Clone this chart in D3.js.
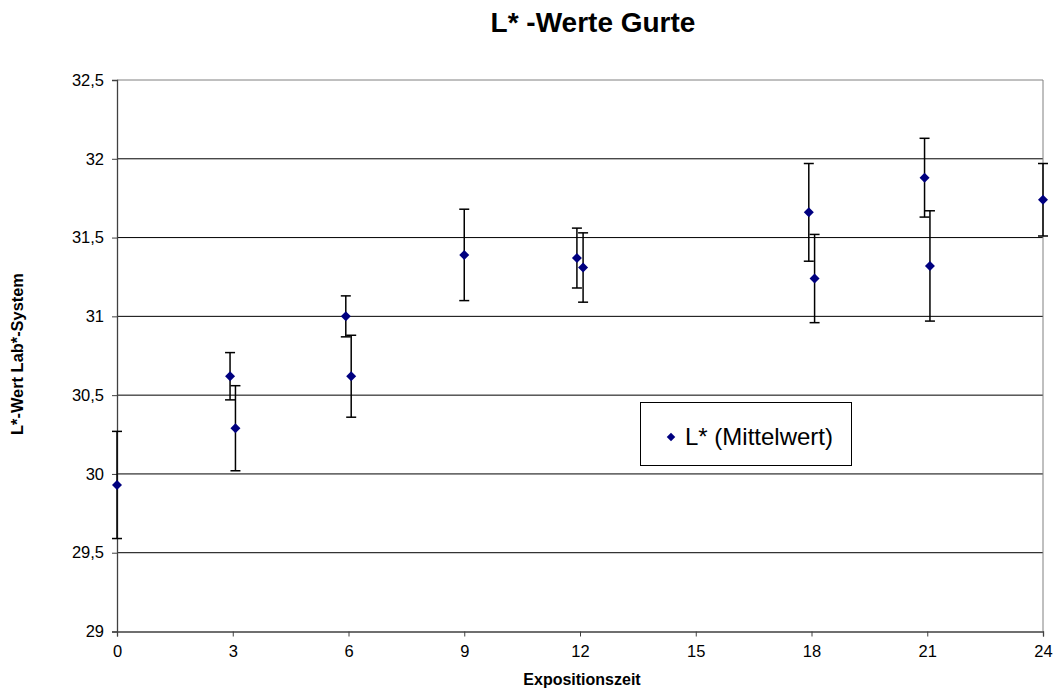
<!DOCTYPE html>
<html><head><meta charset="utf-8">
<script src="https://cdn.jsdelivr.net/npm/d3@7"></script>
<style>body{margin:0;background:#fff}svg{display:block;font-family:Arial,"Liberation Sans",sans-serif}</style>
</head><body><svg id="c" width="1053" height="691"></svg>
<script>
const xVals  = [0, 2.93, 3.07, 5.93, 6.07, 9, 11.92, 12.08, 17.93, 18.08, 20.93, 21.07, 24];
const means  = [29.93, 30.62, 30.29, 31.00, 30.62, 31.39, 31.37, 31.31, 31.66, 31.24, 31.88, 31.32, 31.74];
const errs   = [0.34, 0.15, 0.27, 0.13, 0.26, 0.29, 0.19, 0.22, 0.31, 0.28, 0.25, 0.35, 0.23];
const xTicks = [0, 3, 6, 9, 12, 15, 18, 21, 24];
const yTicks = [29, 29.5, 30, 30.5, 31, 31.5, 32, 32.5];
const fmtY = d => String(d).replace('.', ',');

const svg = d3.select('#c');
const L = 117, R = 1043, T = 80, B = 631.5;
const x = d3.scaleLinear().domain([0, 24]).range([L, R]);
const y = d3.scaleLinear().domain([29, 32.5]).range([B, T]);

// gridlines
svg.append('g').selectAll('line').data(yTicks.filter(d => d > 29)).join('line')
  .attr('x1', L).attr('x2', R).attr('y1', d => y(d)).attr('y2', d => y(d))
  .attr('stroke', d => d === 32.5 ? '#808080' : '#000').attr('stroke-width', 1);
// right border
svg.append('line').attr('x1', R).attr('x2', R).attr('y1', T).attr('y2', B).attr('stroke', '#808080');

// axes
const yAxis = d3.axisLeft(y).tickValues(yTicks).tickFormat(fmtY).tickSize(5).tickPadding(8);
const gy = svg.append('g').attr('transform', `translate(${L},0)`).call(yAxis);
const xAxis = d3.axisBottom(x).tickValues(xTicks).tickSize(5).tickPadding(9);
const gx = svg.append('g').attr('transform', `translate(0,${B})`).call(xAxis);
[gy, gx].forEach(g => {
  g.select('.domain').attr('stroke', '#404040').attr('stroke-width', 1.3);
  g.selectAll('.tick line').attr('stroke', '#404040');
  g.selectAll('text').attr('font-size', 16.5).attr('fill', '#000').attr('font-family', 'Arial,"Liberation Sans",sans-serif');
});

// error bars
const data = xVals.map((xv, i) => ({x: xv, m: means[i], e: errs[i]}));
const eb = svg.append('g').attr('stroke', '#000').attr('stroke-width', 1.5);
data.forEach(d => {
  eb.append('line').attr('x1', x(d.x)).attr('x2', x(d.x)).attr('y1', y(d.m + d.e)).attr('y2', y(d.m - d.e));
  [d.m + d.e, d.m - d.e].forEach(v => eb.append('line')
    .attr('x1', x(d.x) - 5).attr('x2', x(d.x) + 5).attr('y1', y(v)).attr('y2', y(v)));
});

// markers
svg.append('g').selectAll('path').data(data).join('path')
  .attr('d', d3.symbol().type(d3.symbolSquare).size(50))
  .attr('transform', d => `translate(${x(d.x)},${y(d.m)}) rotate(45)`)
  .attr('fill', '#000080');

// title & labels
svg.append('text').attr('x', 593).attr('y', 32).attr('text-anchor', 'middle')
  .attr('font-size', 28).attr('font-weight', 'bold').text('L* -Werte Gurte');
svg.append('text').attr('x', 582).attr('y', 685).attr('text-anchor', 'middle')
  .attr('font-size', 16).attr('font-weight', 'bold').text('Expositionszeit');
svg.append('text').attr('transform', 'translate(23,354) rotate(-90)').attr('text-anchor', 'middle')
  .attr('font-size', 16.4).attr('font-weight', 'bold').text('L*-Wert Lab*-System');

// legend
const lg = svg.append('g');
lg.append('rect').attr('x', 640.5).attr('y', 402.5).attr('width', 211).attr('height', 63)
  .attr('fill', '#fff').attr('stroke', '#000');
lg.append('path').attr('d', d3.symbol().type(d3.symbolSquare).size(36))
  .attr('transform', 'translate(671,437) rotate(45)').attr('fill', '#000080');
lg.append('text').attr('x', 685).attr('y', 445).attr('font-size', 24).text('L* (Mittelwert)');
</script></body></html>
